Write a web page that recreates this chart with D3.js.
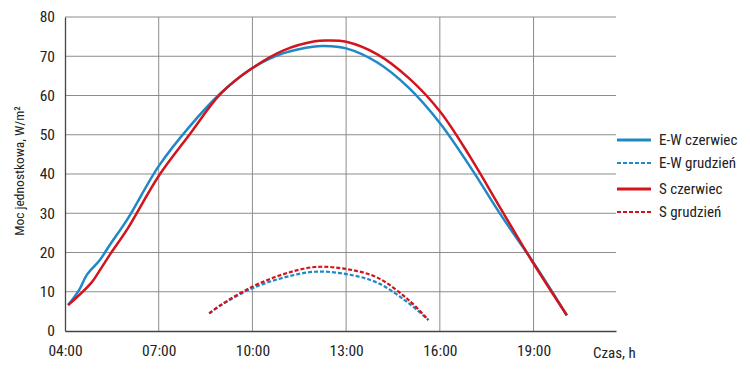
<!DOCTYPE html>
<html>
<head>
<meta charset="utf-8">
<script src="https://d3js.org/d3.v7.min.js"></script>
<style>
  body { margin: 0; background: #fff; }
  text { font-family: "Roboto Condensed", "Roboto", sans-serif; fill: #222; }
</style>
</head>
<body>
<div id="chart"></div>
<script>
// x ticks (hours)
var xTicks = ["04:00", "07:00", "10:00", "13:00", "16:00", "19:00"];
var yTicks = [0, 10, 20, 30, 40, 50, 60, 70, 80];

// E-W czerwiec
var ewJuneTime = ["04:06","04:27","04:42","05:07","05:26","06:00","07:00","08:00","09:00","10:00","11:00","12:00","12:15","13:00","14:00","15:00","16:00","17:00","18:00","19:00","20:04"];
var ewJuneVal  = [6.6, 10.4, 14.3, 18.1, 21.9, 28.5, 42, 52.2, 60.7, 67, 70.8, 72.5, 72.6, 72.0, 68.4, 62, 53, 41.5, 29, 17.4, 4];

// S czerwiec
var sJuneTime = ["04:06","04:50","05:07","05:26","06:00","07:00","08:00","09:00","10:00","11:00","12:00","12:22","13:00","14:00","15:00","16:00","17:00","18:00","19:00","20:04"];
var sJuneVal  = [6.6, 12.2, 15.5, 19.4, 26, 39.5, 50.2, 60.6, 67, 71.5, 73.8, 74.0, 73.7, 70.5, 64.5, 56, 44, 30.5, 17.2, 4];

// E-W grudzien
var ewDecTime = ["08:37","09:00","10:00","11:00","12:00","13:00","14:00","15:00","15:38"];
var ewDecVal  = [4.5, 6.6, 10.9, 13.6, 15.1, 14.5, 12.3, 7.1, 2.8];

// S grudzien
var sDecTime = ["08:37","09:00","10:00","11:00","12:00","13:00","14:00","15:00","15:38"];
var sDecVal  = [4.5, 6.7, 11.3, 14.5, 16.3, 15.8, 13.6, 7.9, 2.8];

var blue = "#1f88c6", red = "#d2141c";

function hrs(s) { var p = s.split(":"); return +p[0] + (+p[1]) / 60; }
function pts(t, v) { return t.map(function (d, i) { return [hrs(d), v[i]]; }); }

var series = [
  { name: "E-W czerwiec", data: pts(ewJuneTime, ewJuneVal), color: blue, dash: null, ly: 140 },
  { name: "E-W grudzień", data: pts(ewDecTime, ewDecVal), color: blue, dash: "4,2", ly: 163 },
  { name: "S czerwiec", data: pts(sJuneTime, sJuneVal), color: red, dash: null, ly: 189 },
  { name: "S grudzień", data: pts(sDecTime, sDecVal), color: red, dash: "4,2", ly: 212 }
];

var width = 750, height = 373;
var svg = d3.select("#chart").append("svg")
  .attr("width", width).attr("height", height);

var x = d3.scaleLinear().domain([4, 21.64]).range([65, 616]);
var y = d3.scaleLinear().domain([0, 80]).range([331, 17]);

// grid
svg.append("g").selectAll("line.h")
  .data(yTicks.slice(1)).enter().append("line")
  .attr("x1", x(4)).attr("x2", x(21.64))
  .attr("y1", function (d) { return y(d); }).attr("y2", function (d) { return y(d); })
  .attr("stroke", "#8c8c8c").attr("stroke-width", 1);

svg.append("g").selectAll("line.v")
  .data(xTicks.slice(1)).enter().append("line")
  .attr("x1", function (d) { return x(hrs(d)); }).attr("x2", function (d) { return x(hrs(d)); })
  .attr("y1", y(0)).attr("y2", y(80))
  .attr("stroke", "#8c8c8c").attr("stroke-width", 1);

// axes
var xAxis = svg.append("g")
  .attr("transform", "translate(0," + y(0) + ")")
  .call(d3.axisBottom(x).tickValues(xTicks.map(hrs)).tickSize(0).tickPadding(14)
    .tickFormat(function (d, i) { return xTicks[i]; }));
var yAxis = svg.append("g")
  .attr("transform", "translate(" + x(4) + ",0)")
  .call(d3.axisLeft(y).tickValues(yTicks).tickSize(0).tickPadding(10));

[xAxis, yAxis].forEach(function (a) {
  a.select(".domain").attr("stroke", "#444").attr("stroke-width", 1.3);
  a.selectAll("text").style("font-size", "15.5px").attr("fill", "#222");
});

// lines
var line = d3.line()
  .x(function (d) { return x(d[0]); })
  .y(function (d) { return y(d[1]); })
  .curve(d3.curveCatmullRom.alpha(0.5));

svg.append("g").selectAll("path")
  .data(series).enter().append("path")
  .attr("d", function (d) { return line(d.data); })
  .attr("fill", "none")
  .attr("stroke", function (d) { return d.color; })
  .attr("stroke-width", function (d) { return d.dash ? 2.2 : 2.5; })
  .attr("stroke-dasharray", function (d) { return d.dash; });

// labels
svg.append("text")
  .attr("transform", "translate(24," + (y(40) - 3) + ") rotate(-90)")
  .attr("text-anchor", "middle")
  .style("font-size", "13.5px")
  .text("Moc jednostkowa, W/m²");

svg.append("text")
  .attr("x", 593).attr("y", y(0) + 27)
  .style("font-size", "15px")
  .text("Czas, h");

// legend
var leg = svg.append("g").selectAll("g")
  .data(series).enter().append("g");
leg.append("line")
  .attr("x1", 617).attr("x2", 651)
  .attr("y1", function (d) { return d.ly; }).attr("y2", function (d) { return d.ly; })
  .attr("stroke", function (d) { return d.color; })
  .attr("stroke-width", function (d) { return d.dash ? 2 : 3; })
  .attr("stroke-dasharray", function (d) { return d.dash; });
leg.append("text")
  .attr("x", 659).attr("y", function (d) { return d.ly + 5; })
  .style("font-size", "15px")
  .text(function (d) { return d.name; });
</script>
</body>
</html>
